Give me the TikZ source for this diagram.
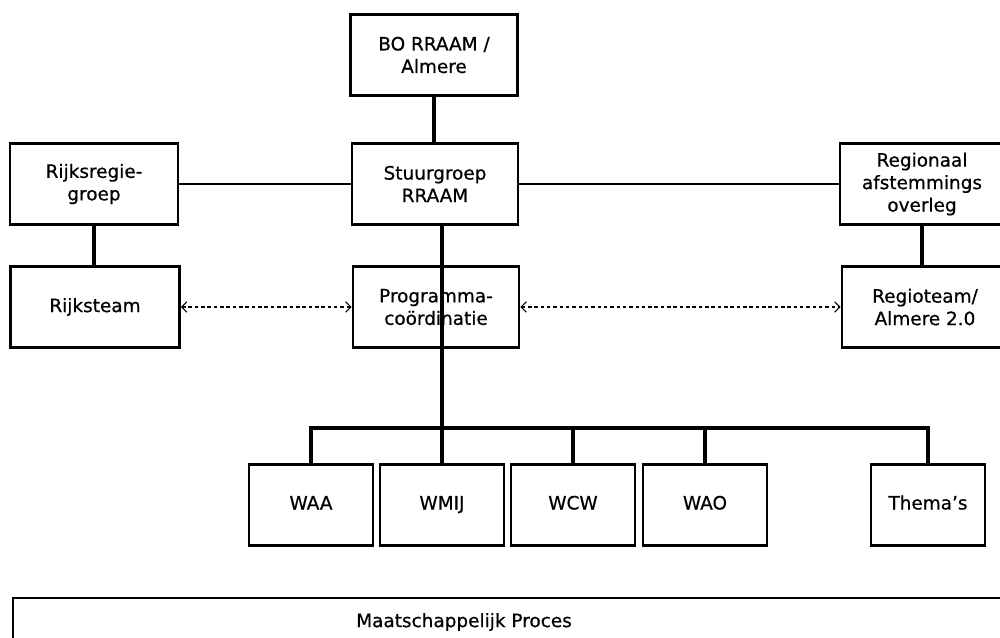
\documentclass[tikz,border=0pt]{standalone}
\usepackage{fontspec}
\setmainfont{DejaVu Sans}[FakeBold=0.6]
\usetikzlibrary{arrows.meta}
\tikzset{font={\fontsize{10.5pt}{12.8pt}\selectfont}}
\tikzset{box/.style={draw, line width=1.6pt, align=center, minimum height=1.62cm},
  trunk/.style={line width=2.6pt},
  thin/.style={line width=0.7pt},
  dashlink/.style={line width=0.6pt, dash pattern=on 2pt off 1.6pt,
    {Straight Barb[length=3pt,width=6pt]}-{Straight Barb[length=3pt,width=6pt]}}}

\begin{document}
\begin{tikzpicture}[x=0.02cm, y=-0.02cm]
      \useasboundingbox (0,0) rectangle (1000,638);
      \clip (0,0) rectangle (1000,638);
      %top and middle boxes
      \node[box, minimum width=3.34cm] (bo) at (434,55) {BO RRAAM /\\Almere};
      \node[box, minimum width=3.32cm] (stuur) at (435,184) {Stuurgroep\\RRAAM};
      \node[box, minimum width=3.36cm] (rrg) at (94,184) {Rijksregie-\\groep};
      \node[box, minimum width=3.38cm] (rteam) at (95,307) {Rijksteam};
      \node[box, minimum width=3.32cm] (prog) at (436,307) {Programma-\\coördinatie};
      \node[box, minimum width=3.28cm] (rao) at (922,184) {Regionaal\\afstemmings\\overleg};
      \node[box, minimum width=3.32cm] (regio) at (925,307) {Regioteam/\\Almere 2.0};
      %werkgroepen
      \foreach \n/\x/\t in {waa/311/WAA, wmij/442/WMIJ, wcw/573/WCW, wao/705/WAO}
	\node[box, minimum width=2.48cm] (\n) at (\x,505) {\strut\t};
      \node[box, minimum width=2.28cm] (themas) at (928,505) {\strut Thema's};
      \coordinate (bus) at (0,428);
      %thick links
      \draw[trunk] (bo.south) -- (bo.south |- stuur.north);
      \draw[trunk] (rrg.south) -- (rrg.south |- rteam.north);
      \draw[trunk] (rao.south) -- (rao.south |- regio.north);
      \draw[trunk] (stuur.south -| wmij.north) -- (wmij.north);
      \draw[trunk] (waa.north) -- (waa.north |- bus) -| (themas.north);
      \foreach \n in {wcw, wao}
	\draw[trunk] (\n.north) -- (\n.north |- bus);
      %thin links
      \draw[thin] (rrg.east) -- (stuur.west);
      \draw[thin] (stuur.east) -- (rao.west);
      \draw[dashlink] (rteam.east) -- (prog.west);
      \draw[dashlink] (prog.east) -- (regio.west);
      %maatschappelijk proces
      \draw[line width=1.6pt] (13,598) rectangle (1020,700);
      \node (proces) at (464,622) {Maatschappelijk Proces};
    \end{tikzpicture}
\end{document}
